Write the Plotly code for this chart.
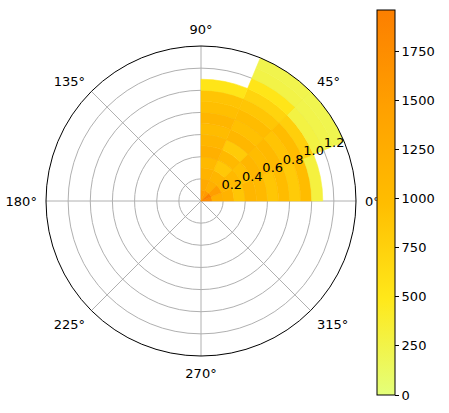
import plotly.graph_objects as go

# ---- data ----
sector_start_deg = [0.0, 22.5, 45.0, 67.5]
sector_width_deg = 22.5
r_edges = [0.0, 0.1, 0.2, 0.3, 0.4, 0.5, 0.6, 0.7, 0.8, 0.9, 1.0, 1.1, 1.2, 1.3, 1.4]
counts_sector0 = [1750, 1200, 1150, 880, 1100, 1050, 880, 1000, 820, 1000, 300]
counts_sector1 = [1950, 1500, 1100, 1050, 950, 1100, 1000, 1050, 900, 1000, 780, 280, 240, 220]
counts_sector2 = [1550, 1200, 1100, 850, 1050, 820, 1080, 950, 1000, 880, 720, 520, 260, 230]
counts_sector3 = [1500, 1300, 1150, 1050, 1200, 1100, 1000, 1100, 960, 900, 520]
cbar_ticks = [0, 250, 500, 750, 1000, 1250, 1500, 1750]
angle_ticks = [0, 45, 90, 135, 180, 225, 270, 315]
radial_ticks = [0.2, 0.4, 0.6, 0.8, 1.0, 1.2]
radial_labels = ["0.2", "0.4", "0.6", "0.8", "1.0", "1.2"]
radial_label_angle = 22.5
cmin, cmax = 0, 1960

wistia = [
    [0.0, "#e4ff7a"],
    [0.25, "#ffe81a"],
    [0.5, "#ffbd00"],
    [0.75, "#ffa000"],
    [1.0, "#fc7f00"],
]


def hex_to_rgb(h):
    h = h.lstrip("#")
    return [int(h[i:i + 2], 16) for i in (0, 2, 4)]


def cmap(v):
    t = (v - cmin) / (cmax - cmin)
    t = min(max(t, 0.0), 1.0)
    for (t0, c0), (t1, c1) in zip(wistia[:-1], wistia[1:]):
        if t <= t1:
            f = (t - t0) / (t1 - t0)
            a, b = hex_to_rgb(c0), hex_to_rgb(c1)
            rgb = [round(a[i] + (b[i] - a[i]) * f) for i in range(3)]
            return "rgb(%d,%d,%d)" % tuple(rgb)
    return wistia[-1][1]


thetas, bases, lengths, vals = [], [], [], []
for s0, counts in zip(sector_start_deg,
                      [counts_sector0, counts_sector1, counts_sector2, counts_sector3]):
    for i, v in enumerate(counts):
        thetas.append(s0 + sector_width_deg / 2)
        bases.append(r_edges[i])
        lengths.append(r_edges[i + 1] - r_edges[i])
        vals.append(v)

fig = go.Figure()
fig.add_trace(go.Barpolar(
    theta=thetas,
    r=lengths,
    base=bases,
    width=[sector_width_deg] * len(thetas),
    marker=dict(
        color=vals,
        colorscale=wistia,
        cmin=cmin,
        cmax=cmax,
        line=dict(width=0.6, color=[cmap(v) for v in vals]),
        showscale=True,
        colorbar=dict(
            x=377 / 449, xanchor="left", xpad=0,
            y=(413 - 202.5) / 413, yanchor="middle", ypad=0,
            len=385 / 413, lenmode="fraction",
            thickness=18,
            outlinewidth=1, outlinecolor="black",
            ticks="outside", ticklen=4, tickcolor="black",
            tickvals=cbar_ticks,
            tickfont=dict(size=13, color="black", family="DejaVu Sans"),
            bgcolor="white",
        ),
    ),
    hoverinfo="skip",
))

# radial tick labels, placed through the polar scales
fig.add_trace(go.Scatterpolar(
    r=radial_ticks,
    theta=[radial_label_angle] * len(radial_ticks),
    mode="text",
    text=radial_labels,
    textposition="top right",
    textfont=dict(size=13, color="black", family="DejaVu Sans"),
    hoverinfo="skip",
    showlegend=False,
))

fig.update_layout(
    width=449, height=413, autosize=False,
    margin=dict(l=0, r=0, t=0, b=0),
    paper_bgcolor="white",
    font=dict(family="DejaVu Sans", size=13, color="black"),
    showlegend=False,
    polar=dict(
        domain=dict(x=[46 / 449, 356 / 449], y=[57 / 413, 367 / 413]),
        bgcolor="white",
        bargap=0,
        radialaxis=dict(
            range=[0, 1.4],
            tickvals=radial_ticks,
            showticklabels=False,
            angle=22.5,
            showline=False,
            ticks="",
            showgrid=True,
            gridcolor="#b0b0b0",
            gridwidth=0.8,
            layer="above traces",
        ),
        angularaxis=dict(
            direction="counterclockwise",
            rotation=0,
            tickvals=angle_ticks,
            ticktext=[f"{a}°" for a in angle_ticks],
            showline=True,
            linecolor="black",
            linewidth=1,
            ticks="outside",
            ticklen=6,
            tickcolor="rgba(0,0,0,0)",
            showgrid=True,
            gridcolor="#b0b0b0",
            gridwidth=0.8,
            layer="above traces",
            tickfont=dict(size=13, color="black"),
        ),
    ),
)

fig.write_html("out.html")
